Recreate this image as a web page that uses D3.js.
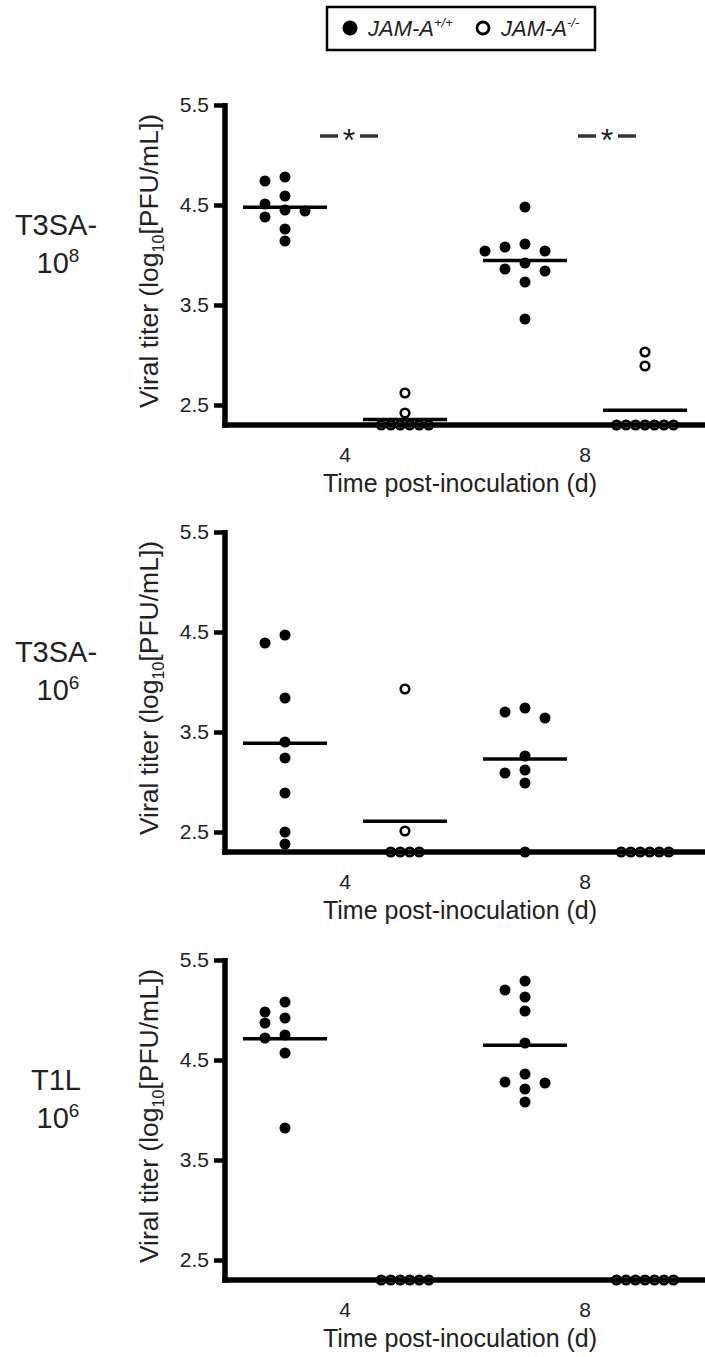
<!DOCTYPE html>
<html>
<head>
<meta charset="utf-8">
<script src="https://cdn.jsdelivr.net/npm/d3@7"></script>
<style>
  body { margin: 0; background: #fff; }
  text { font-family: "Liberation Sans", Arial, sans-serif; fill: #222; }
</style>
</head>
<body>
<div id="container"></div>
<script>
const width = 705, height = 1357

/* DATA */
const days = ["4", "8"]
const genotypes = ["wt", "ko"]
const legendNames = ["JAM-A", "JAM-A"]
const legendSups = ["+/+", "-/-"]
const yTicks = [2.5, 3.5, 4.5, 5.5]
const detectionLimit = 2.3

const panelNames = [["T3SA-", "10", "8"], ["T3SA-", "10", "6"], ["T1L", "10", "6"]]
const sigDays = [["4", "8"], [], []]

// T3SA- 10^8
const t3sa8_wt_d4 = [4.78, 4.74, 4.59, 4.51, 4.45, 4.44, 4.38, 4.26, 4.14]
const t3sa8_ko_d4 = [2.62, 2.42, 2.3, 2.3, 2.3, 2.3, 2.3, 2.3]
const t3sa8_wt_d8 = [4.48, 4.11, 4.08, 4.04, 4.04, 3.92, 3.86, 3.84, 3.73, 3.36]
const t3sa8_ko_d8 = [3.03, 2.89, 2.3, 2.3, 2.3, 2.3, 2.3, 2.3, 2.3]
// T3SA- 10^6
const t3sa6_wt_d4 = [4.47, 4.39, 3.84, 3.40, 3.24, 2.89, 2.50, 2.38]
const t3sa6_ko_d4 = [3.93, 2.51, 2.3, 2.3, 2.3, 2.3]
const t3sa6_wt_d8 = [3.74, 3.70, 3.64, 3.26, 3.12, 3.09, 2.99, 2.3]
const t3sa6_ko_d8 = [2.3, 2.3, 2.3, 2.3, 2.3, 2.3]
// T1L 10^6
const t1l_wt_d4 = [5.08, 4.98, 4.92, 4.87, 4.75, 4.72, 4.57, 3.82]
const t1l_ko_d4 = [2.3, 2.3, 2.3, 2.3, 2.3, 2.3]
const t1l_wt_d8 = [5.29, 5.20, 5.13, 4.99, 4.67, 4.36, 4.28, 4.27, 4.21, 4.08]
const t1l_ko_d8 = [2.3, 2.3, 2.3, 2.3, 2.3, 2.3, 2.3]

const panels = [
  { wt: { "4": t3sa8_wt_d4, "8": t3sa8_wt_d8 }, ko: { "4": t3sa8_ko_d4, "8": t3sa8_ko_d8 } },
  { wt: { "4": t3sa6_wt_d4, "8": t3sa6_wt_d8 }, ko: { "4": t3sa6_ko_d4, "8": t3sa6_ko_d8 } },
  { wt: { "4": t1l_wt_d4, "8": t1l_wt_d8 }, ko: { "4": t1l_ko_d4, "8": t1l_ko_d8 } }
]

/* LAYOUT */
const margin = { left: 225, right: 0 }
const panelTops = [105, 532, 960]
const plotH = 320
const dotR = 5.5

const svg = d3.select("#container")
  .append("svg")
  .attr("width", width)
  .attr("height", height)

// x scales shared by all panels
const xDay = d3.scaleBand()
  .domain(days)
  .range([margin.left, width - margin.right])
const xGeno = d3.scaleBand()
  .domain(genotypes)
  .range([0, xDay.bandwidth()])

// dot-plot layout: detection-limit points in a row, the rest dodged sideways
function layout(values, yScale) {
  const placed = []
  const lod = values.filter(v => v <= detectionLimit)
  lod.forEach((v, i) => {
    placed.push({ v, dx: (i - (lod.length - 1) / 2) * 9.5, y: yScale(v) })
  })
  const rest = values.filter(v => v > detectionLimit).sort((a, b) => b - a)
  const steps = [0, -20, 20, -40, 40, -60, 60]
  rest.forEach(v => {
    const y = yScale(v)
    const dx = steps.find(s => !placed.some(p => Math.abs(p.dx - s) < 11 && Math.abs(p.y - y) < 11)) ?? 0
    placed.push({ v, dx, y })
  })
  return placed
}

panels.forEach((panel, i) => {
  const top = panelTops[i]
  const yScale = d3.scaleLinear()
    .domain([detectionLimit, 5.5])
    .range([top + plotH, top])
  const g = svg.append("g")

  // y axis
  const yAxis = d3.axisLeft(yScale)
    .tickValues(yTicks)
    .tickFormat(d3.format(".1f"))
    .tickSize(11)
    .tickSizeOuter(0)
    .tickPadding(5)
  const ya = g.append("g")
    .attr("transform", `translate(${margin.left},0)`)
    .call(yAxis)
  ya.select(".domain").attr("stroke", "#000").attr("stroke-width", 5.5)
    .attr("d", `M0,${yScale(5.5) - 2}V${yScale(detectionLimit) + 2.75}`)
  ya.selectAll(".tick line").attr("stroke", "#000").attr("stroke-width", 4.5)
  ya.selectAll(".tick text").style("font-size", "21px").attr("fill", "#222")

  // x axis
  const xAxis = d3.axisBottom(xDay).tickSize(0).tickPadding(22)
  const xa = g.append("g")
    .attr("transform", `translate(0,${yScale(detectionLimit)})`)
    .call(xAxis)
  xa.select(".domain").attr("stroke", "#000").attr("stroke-width", 5.5)
    .attr("d", `M${margin.left - 2.75},0H${width}`)
  xa.selectAll(".tick text").style("font-size", "21px").attr("fill", "#222")

  g.append("text")
    .attr("x", (margin.left + width) / 2 - 5)
    .attr("y", yScale(detectionLimit) + 67)
    .attr("text-anchor", "middle")
    .style("font-size", "25px")
    .text("Time post-inoculation (d)")

  // y title
  const yt = g.append("text")
    .attr("transform", `translate(158,${top + plotH / 2 - 4}) rotate(-90)`)
    .attr("text-anchor", "middle")
    .style("font-size", "26.5px")
  yt.append("tspan").text("Viral titer (log")
  yt.append("tspan").attr("dy", 6).style("font-size", "16px").text("10")
  yt.append("tspan").attr("dy", -6).text("[PFU/mL])")

  // panel label
  const name = panelNames[i]
  g.append("text")
    .attr("x", 56).attr("y", top + 130)
    .attr("text-anchor", "middle")
    .style("font-size", "29px")
    .text(name[0])
  const pw = g.append("text")
    .attr("x", 58).attr("y", top + 168)
    .attr("text-anchor", "middle")
    .style("font-size", "29px")
  pw.append("tspan").text(name[1])
  pw.append("tspan").attr("dy", -11).style("font-size", "19px").text(name[2])

  // points and mean lines
  days.forEach(day => {
    genotypes.forEach(geno => {
      const values = panel[geno][day]
      const cx = xDay(day) + xGeno(geno) + xGeno.bandwidth() / 2
      const pts = layout(values, yScale)
      const mean = d3.mean(values)
      g.append("line")
        .attr("x1", cx - 42).attr("x2", cx + 42)
        .attr("y1", yScale(mean)).attr("y2", yScale(mean))
        .attr("stroke", "#000").attr("stroke-width", 3.5)
      g.selectAll(null)
        .data(pts)
        .join("circle")
        .attr("cx", d => cx + d.dx)
        .attr("cy", d => d.y)
        .attr("r", geno === "wt" ? dotR : dotR - 1.2)
        .attr("fill", geno === "wt" ? "#000" : "none")
        .attr("stroke", "#000")
        .attr("stroke-width", geno === "wt" ? 0 : 2.6)
    })
  })

  // significance marks
  const sigShift = { "4": 4, "8": 22 }
  sigDays[i].forEach(day => {
    const sx = xDay(day) + xDay.bandwidth() / 2 + sigShift[day]
    const sy = top + 31
    g.append("line").attr("x1", sx - 29).attr("x2", sx - 11).attr("y1", sy).attr("y2", sy)
      .attr("stroke", "#333").attr("stroke-width", 3.5)
    g.append("line").attr("x1", sx + 11).attr("x2", sx + 29).attr("y1", sy).attr("y2", sy)
      .attr("stroke", "#333").attr("stroke-width", 3.5)
    g.append("text").attr("x", sx).attr("y", sy + 15)
      .attr("text-anchor", "middle").style("font-size", "32px").attr("fill", "#333")
      .text("*")
  })
})

// legend
const lg = svg.append("g")
lg.append("rect")
  .attr("x", 327).attr("y", 7).attr("width", 268).attr("height", 43)
  .attr("fill", "none").attr("stroke", "#000").attr("stroke-width", 2.5)
genotypes.forEach((geno, i) => {
  const lx = 350 + i * 133
  lg.append("circle")
    .attr("cx", lx).attr("cy", 28)
    .attr("r", geno === "wt" ? 7.5 : 6)
    .attr("fill", geno === "wt" ? "#000" : "none")
    .attr("stroke", "#000").attr("stroke-width", geno === "wt" ? 0 : 2.8)
  const t = lg.append("text")
    .attr("x", lx + 18).attr("y", 36)
    .style("font-size", "22px").style("font-style", "italic")
  t.append("tspan").text(legendNames[i])
  t.append("tspan").attr("dy", -9).style("font-size", "13px").text(legendSups[i])
})
</script>
</body>
</html>
